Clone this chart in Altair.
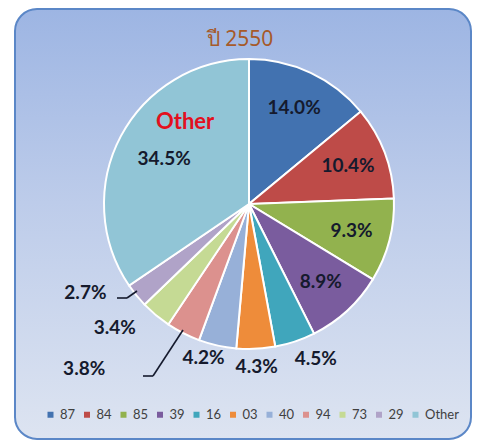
import altair as alt
import pandas as pd

categories = ["87", "84", "85", "39", "16", "03", "40", "94", "73", "29", "Other"]
values = [14.0, 10.4, 9.3, 8.9, 4.5, 4.3, 4.2, 3.8, 3.4, 2.7, 34.5]
colors = ["#4272B0", "#BE4B48", "#92B24E", "#7A5C9E", "#40A6BC", "#EE8C3A",
          "#97B0D8", "#DC918E", "#C5DA94", "#B0A3C8", "#91C5D6"]
title_text = "ปี 2550"

df = pd.DataFrame({"cat": categories, "value": values, "idx": list(range(len(categories)))})

W, H = 464, 432
CX, CY, R = 241, 196, 145
LABEL_FONT = "Lato"
LABEL_COLOR = "#151A2D"

base = alt.Chart(df)

bg = alt.Chart(alt.Data(values=[{}])).mark_rect(
    cornerRadius=22, stroke="#5B87C7", strokeWidth=2,
    color=alt.LinearGradient(
        gradient="linear", x1=0, x2=0, y1=0, y2=1,
        stops=[alt.GradientStop(color="#9DB5E3", offset=0),
               alt.GradientStop(color="#BDCCEA", offset=0.45),
               alt.GradientStop(color="#DDE4F1", offset=1)]),
).encode(x=alt.value(7), x2=alt.value(463), y=alt.value(1), y2=alt.value(H - 1))

pie = base.mark_arc(outerRadius=R, stroke="white", strokeWidth=2).encode(
    theta=alt.Theta("value:Q", stack=True, scale=alt.Scale(domain=[0, 100])),
    color=alt.Color("cat:N", sort=None,
                    scale=alt.Scale(domain=categories, range=colors),
                    legend=alt.Legend(orient="none", legendX=36, legendY=400,
                                      direction="horizontal", columns=11, title=None,
                                      symbolType="square", symbolSize=36,
                                      symbolStrokeWidth=0, labelFontSize=13,
                                      labelFont=LABEL_FONT, labelColor="#404040",
                                      columnPadding=4.5, labelOffset=3)),
    order=alt.Order("idx:Q"),
    x=alt.value(CX), y=alt.value(CY),
)


def label_layer(cats, radius, dx=0, dy=0, text_expr=None, color=LABEL_COLOR, size=19):
    ch = base.transform_window(
        cum="sum(value)", sort=[alt.SortField("idx")]
    ).transform_calculate(
        mid="datum.cum - datum.value / 2",
        label=text_expr or "format(datum.value, '.1f') + '%'",
    ).transform_filter(
        alt.FieldOneOfPredicate(field="cat", oneOf=cats)
    ).mark_text(
        radius=radius, dx=dx, dy=dy, font=LABEL_FONT, fontWeight="bold",
        fontSize=size, color=color, align="center", baseline="middle",
    ).encode(
        theta=alt.Theta("mid:Q", scale=alt.Scale(domain=[0, 100])),
        text="label:N",
        x=alt.value(CX), y=alt.value(CY),
    )
    return ch


layers = [
    bg, pie,
    label_layer(["87", "84", "85", "39"], 106),
    label_layer(["Other"], 96),
    label_layer(["Other"], 96, dx=21, dy=-37, text_expr="'Other'", color="#E3101E", size=22),
    label_layer(["16"], 163, dx=15),
    label_layer(["03"], 163),
    label_layer(["40"], 163, dx=-10, dy=-5),
    label_layer(["94"], R, dx=-99, dy=36),
    label_layer(["73"], R, dx=-41, dy=13),
    label_layer(["29"], R, dx=-51, dy=-2),
]

segs = [((109, 290), (119, 290)), ((119, 290), (129, 283)),
        ((135, 368), (145, 368)), ((145, 368), (175, 322))]
for (x1, y1), (x2, y2) in segs:
    layers.append(
        alt.Chart(alt.Data(values=[{}])).mark_rule(color="#151A2D", strokeWidth=1.6).encode(
            x=alt.value(x1), y=alt.value(y1), x2=alt.value(x2), y2=alt.value(y2))
    )

title = alt.Chart(alt.Data(values=[{}])).mark_text(
    text=title_text, font="Noto Sans", fontSize=21, color="#A65A2A",
    align="center", baseline="middle",
).encode(x=alt.value(232), y=alt.value(32))
layers.append(title)

chart = alt.layer(*layers).resolve_scale(theta="independent").properties(
    width=W, height=H, padding=0, autosize="none", background="white"
).configure_view(stroke=None)

chart.save("out.html", embed_options={"renderer": "svg", "actions": False})
